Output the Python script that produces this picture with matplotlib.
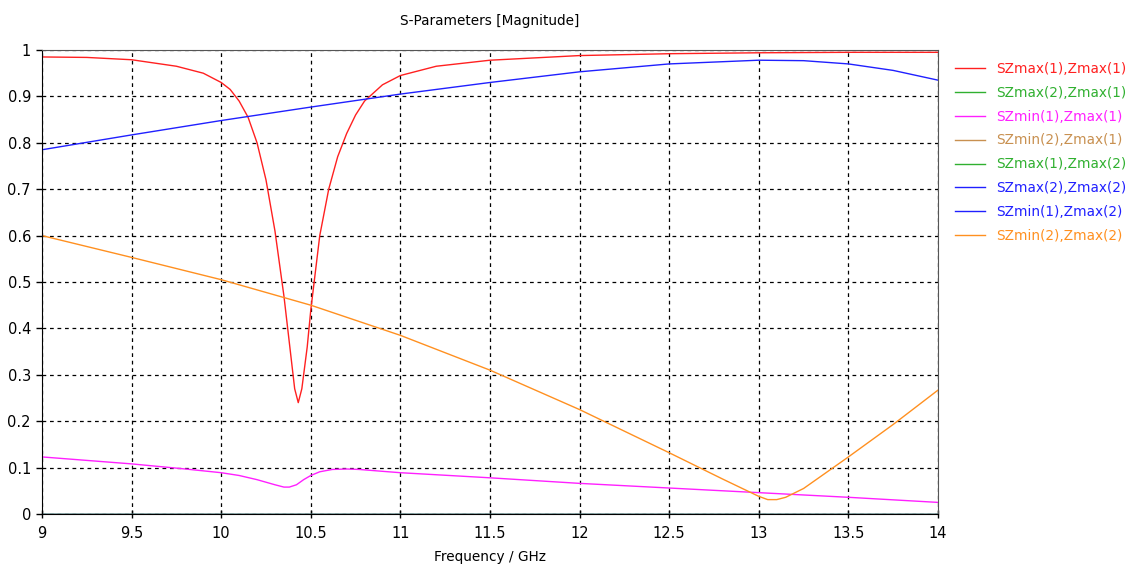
import numpy as np
import matplotlib.pyplot as plt

# frequency grids (GHz) and magnitudes
f_s11 = [9.0, 9.25, 9.5, 9.75, 9.9, 10.0, 10.05, 10.1, 10.15, 10.2, 10.25, 10.3,
         10.35, 10.38, 10.41, 10.43, 10.45, 10.48, 10.5, 10.55, 10.6, 10.65, 10.7,
         10.75, 10.8, 10.9, 11.0, 11.2, 11.5, 12.0, 12.5, 13.0, 13.5, 14.0]
s11 = [0.985, 0.984, 0.979, 0.965, 0.950, 0.930, 0.915, 0.890, 0.855, 0.800, 0.720, 0.610,
       0.470, 0.370, 0.270, 0.240, 0.270, 0.360, 0.440, 0.600, 0.700, 0.770, 0.820,
       0.860, 0.890, 0.925, 0.945, 0.965, 0.978, 0.988, 0.992, 0.994, 0.995, 0.995]

f_s22 = [9.0, 9.5, 10.0, 10.5, 11.0, 11.5, 12.0, 12.5, 13.0, 13.25, 13.5, 13.75, 14.0]
s22 = [0.785, 0.817, 0.848, 0.877, 0.905, 0.930, 0.953, 0.970, 0.978, 0.977, 0.970, 0.956, 0.935]

f_s21 = [9.0, 9.5, 9.8, 10.0, 10.1, 10.2, 10.3, 10.35, 10.38, 10.42, 10.46, 10.5, 10.55,
         10.62, 10.7, 10.77, 10.9, 11.0, 11.5, 12.0, 12.5, 13.0, 13.5, 14.0]
s21 = [0.123, 0.108, 0.097, 0.089, 0.083, 0.074, 0.063, 0.058, 0.058, 0.063, 0.074, 0.083, 0.091,
       0.096, 0.097, 0.096, 0.092, 0.089, 0.078, 0.066, 0.056, 0.046, 0.036, 0.025]

f_s43 = [9.0, 9.5, 10.0, 10.5, 11.0, 11.5, 12.0, 12.5, 12.8, 13.0, 13.05, 13.1, 13.15,
         13.25, 13.5, 13.75, 14.0]
s43 = [0.600, 0.553, 0.505, 0.450, 0.385, 0.310, 0.225, 0.132, 0.075, 0.038, 0.031, 0.031, 0.036,
       0.055, 0.123, 0.193, 0.267]

f_zero = [9.0, 14.0]
zero = [0.0, 0.0]

labels = ["SZmax(1),Zmax(1)", "SZmax(2),Zmax(1)", "SZmin(1),Zmax(1)", "SZmin(2),Zmax(1)",
          "SZmax(1),Zmax(2)", "SZmax(2),Zmax(2)", "SZmin(1),Zmax(2)", "SZmin(2),Zmax(2)"]
colors = ["#ff2020", "#30b030", "#ff20ff", "#c89050",
          "#30b030", "#2020ff", "#2020ff", "#ff9020"]
series = [(f_s11, s11), (f_zero, zero), (f_s21, s21), (f_zero, zero),
          (f_zero, zero), (f_s22, s22), (f_zero, zero), (f_s43, s43)]

plt.rcParams['font.family'] = ['DejaVu Sans']
fig = plt.figure(figsize=(11.32, 5.76), dpi=100)
ax = fig.add_axes([42/1132, 62/576, 896/1132, 464/576])

for (x, y), c, lab in zip(series, colors, labels):
    ax.plot(x, y, color=c, lw=1.0, label=lab)

ax.set_xlim(9, 14)
ax.set_ylim(0, 1)
ax.set_xticks(np.arange(9, 14.01, 0.5))
ax.set_xticklabels(['9', '9.5', '10', '10.5', '11', '11.5', '12', '12.5', '13', '13.5', '14'])
ax.set_yticks(np.arange(0, 1.01, 0.1))
ax.set_yticklabels(['0', '0.1', '0.2', '0.3', '0.4', '0.5', '0.6', '0.7', '0.8', '0.9', '1'])
ax.grid(True, color='black', linestyle=(0, (3, 3)), lw=0.9)
ax.tick_params(axis='y', direction='out', length=4, width=1, labelsize=10.5, pad=4)
ax.tick_params(axis='x', direction='inout', length=6, width=1, labelsize=10.5, pad=6)
for s in ['top', 'right']:
    ax.spines[s].set_color('#555555')
for s in ['left', 'bottom']:
    ax.spines[s].set_color('black')

ax.set_title("S-Parameters [Magnitude]", fontsize=9.8, pad=18)
ax.set_xlabel("Frequency / GHz", fontsize=9.8, labelpad=6)

leg = ax.legend(loc='upper left', bbox_to_anchor=(1.019, 0.974), frameon=False,
                fontsize=9.8, handlelength=2.2, handletextpad=0.85, labelspacing=0.72,
                borderaxespad=0, borderpad=0)
for t, c in zip(leg.get_texts(), colors):
    t.set_color(c)

fig.savefig("out.png", dpi=100)
